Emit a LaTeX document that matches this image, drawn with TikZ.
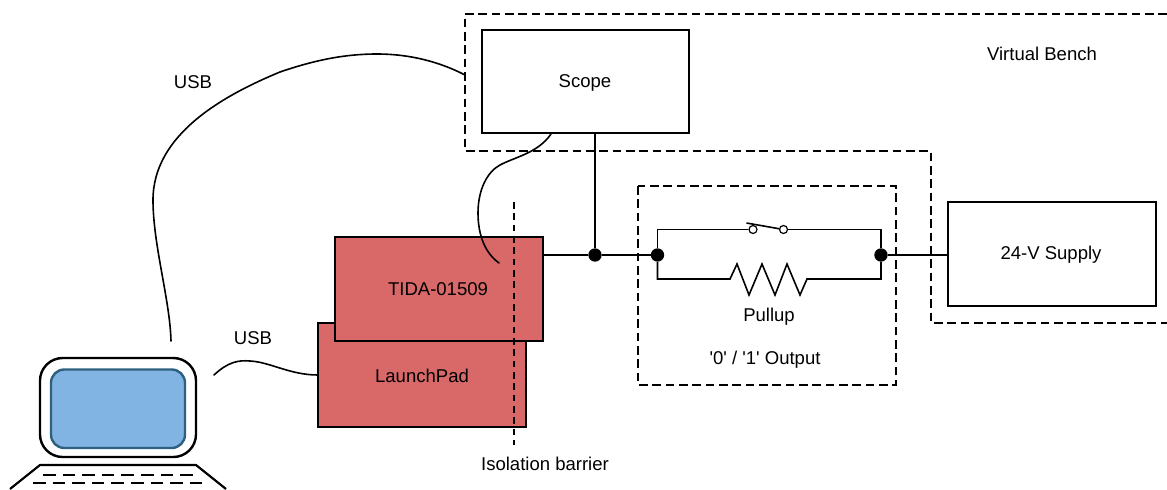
\documentclass[tikz,border=0pt]{standalone}
\usepackage{fontspec}
\newfontfamily\lblfont{Liberation Sans}
\definecolor{boardred}{HTML}{D96868}
\definecolor{screenblue}{HTML}{82B4E3}
\definecolor{screenedge}{HTML}{2F6080}
\tikzset{
  whitebox/.style={draw=black,line width=1.7pt,fill=white,inner sep=0pt,minimum width=155.5pt,minimum height=77.5pt},
  redbox/.style={draw=black,line width=1.8pt,fill=boardred,inner sep=0pt,minimum width=156pt,minimum height=78pt},
  wire/.style={draw=black,line width=1.2pt},
  cable/.style={draw=black,line width=1.2pt,line cap=round},
  dashbox/.style={draw=black,line width=2pt,dash pattern=on 6.4pt off 3.6pt},
  dot/.style={circle,fill=black,inner sep=0pt,minimum size=10pt},
  opencontact/.style={circle,draw=black,fill=white,line width=0.9pt,inner sep=0pt,minimum size=6pt},
  lbl/.style={font=\lblfont\fontsize{13.9}{16}\selectfont,inner sep=0pt,text=black}
}
\begin{document}
\begin{tikzpicture}[x=0.75pt,y=-0.75pt]
\useasboundingbox (0,0) rectangle (1167,489);
% dashed groups
\draw[dashbox] (1167,14) -- (465,14) -- (465,151) -- (931,151) -- (931,323) -- (1167,323);
\node[whitebox] (scope) at (585.5,81.5) {};
\node[lbl] at (585,83) {Scope};
\node[lbl] at (1042,54) {Virtual Bench};
\draw[dashbox] (638,186) rectangle (896,385);
% boards
\node[redbox] (lp) at (422,375) {};
\node[redbox] (tida) at (439,289) {};
\node[lbl] at (438,289) {TIDA-01509};
\node[lbl] at (422,375.5) {LaunchPad};
\draw[black,line width=1.3pt,dash pattern=on 5pt off 3.5pt] (514,202) -- (514,445);
\node[lbl] at (545,464) {Isolation barrier};
% supply
\node[whitebox] (sup) at (1052,254) {};
\node[lbl] at (1051,254.5) {24-V Supply};
% junction nodes
\node[dot] (j1) at (595,255) {};
\node[dot] (j2) at (657.5,255) {};
\node[dot] (j3) at (881,255) {};
\coordinate (scopeout) at (595,133);
\coordinate (tidaout) at (543,255);
\coordinate (supin) at (947,255);
\draw[wire] (tidaout) -- (j1);
\draw[wire,line width=1.6pt] (j1) -- (j2);
\draw[wire] (scopeout) -- (j1);
\draw[wire] (j3) -- (supin);
% switch branch
\node[opencontact] (c1) at (753,229.5) {};
\node[opencontact] (c2) at (783.5,229.5) {};
\draw[wire] (j2) |- (c1);
\draw[wire] (j3) |- (c2);
\draw[wire] (746.5,223) -- (c2);
% resistor branch
\coordinate (r1) at (730,279);
\coordinate (r2) at (807,279);
\draw[wire] (j2) |- (r1) -- (737,264) -- (749,295) -- (762,264) -- (775,295) -- (787,264) -- (800,295) -- (r2) -| (j3);
\node[lbl] at (769,317) {Pullup};
\node[lbl] at (765,360) {'0' / '1' Output};
% cables
\draw[cable] (171,341) .. controls (170,300) and (153,245) .. (153,200) .. controls (153,135) and (222,96) .. (280,72) .. controls (315,60) and (345,54) .. (377,54) .. controls (410,54) and (440,62) .. (465,75);
\node[lbl] at (193,82) {USB};
\draw[cable] (551,134) .. controls (538,153) and (515,157) .. (500,165) .. controls (487,172) and (478,190) .. (478,213) .. controls (478,235) and (485,253) .. (499,263);
\draw[cable] (214,375) .. controls (228,362) and (238,360) .. (250,361) .. controls (270,362) and (290,375) .. (318,375);
\node[lbl] at (253,338) {USB};
% laptop
\draw[black,line width=1.8pt,fill=white,rounded corners=17pt] (40,358) rectangle (196,457);
\draw[screenedge,line width=1.8pt,fill=screenblue,rounded corners=10pt] (51,369.5) rectangle (185,448);
\draw[black,line width=1.6pt] (10,489) -- (40,465) -- (196,465) -- (226,489);
\draw[black,line width=1.6pt,dash pattern=on 9.5pt off 5.2pt] (43,475) -- (193,475);
\draw[black,line width=1.6pt,dash pattern=on 9.5pt off 5.2pt] (33,483) -- (203,483);
\end{tikzpicture}
\end{document}
